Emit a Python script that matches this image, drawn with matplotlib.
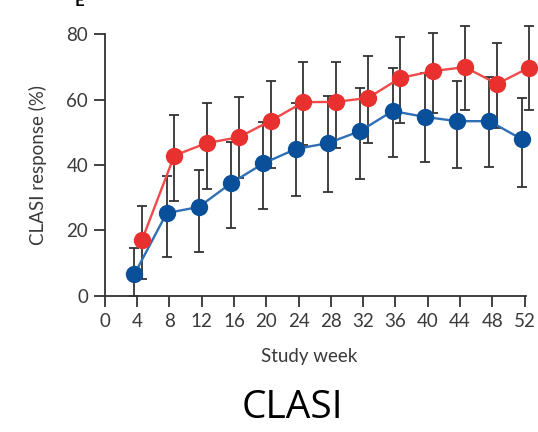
import matplotlib.pyplot as plt

# weeks and CLASI response (%)
weeks = [4, 8, 12, 16, 20, 24, 28, 32, 36, 40, 44, 48, 52]

red_mean = [17.1, 42.9, 46.7, 48.5, 53.6, 59.2, 59.3, 60.5, 66.6, 68.7, 69.9, 64.8, 69.8]
red_low = [5.2, 29.0, 32.8, 36.0, 39.1, 46.0, 45.2, 46.7, 52.8, 56.0, 56.8, 51.3, 56.8]
red_high = [27.6, 55.3, 58.9, 60.8, 65.8, 71.5, 71.5, 73.3, 79.1, 80.3, 82.4, 77.3, 82.4]

blue_mean = [6.6, 25.3, 27.2, 34.5, 40.5, 44.9, 46.7, 50.4, 56.5, 54.7, 53.4, 53.4, 47.9]
blue_low = [0.0, 11.9, 13.4, 20.8, 26.6, 30.5, 31.8, 35.7, 42.4, 40.9, 39.1, 39.4, 33.3]
blue_high = [14.7, 36.6, 38.5, 47.0, 53.0, 59.0, 61.0, 63.5, 69.6, 68.0, 65.6, 67.0, 60.5]

xticks = list(range(0, 53, 4))
yticks = [0, 20, 40, 60, 80]

plt.rcParams['font.family'] = ['Lato', 'DejaVu Sans']

fig = plt.figure(figsize=(5.38, 4.32), dpi=100)
ax = fig.add_axes([0.195, 0.315, 0.783, 0.606])

grey = '#333333'


def draw(mean, low, high, shift, line_col, mark_col, z):
    x = [w + shift for w in weeks]
    err = [[m - l for m, l in zip(mean, low)], [h - m for m, h in zip(mean, high)]]
    ax.errorbar(x, mean, yerr=err, fmt='none', ecolor=grey, elinewidth=1.3,
                capsize=3.5, capthick=1.3, zorder=1, clip_on=False)
    ax.plot(x, mean, '-', color=line_col, lw=1.7, zorder=z, clip_on=False)
    ax.plot(x, mean, 'o', color=mark_col, ms=12.5, mec='none', zorder=z + 0.5, clip_on=False)


draw(blue_mean, blue_low, blue_high, -0.35, '#2f6fb5', '#0a4f9a', 3)
draw(red_mean, red_low, red_high, 0.6, '#f04a4a', '#e8312f', 5)

ax.set_xlim(0, 52.2)
ax.set_ylim(0, 80)
ax.set_xticks(xticks)
ax.set_yticks(yticks)
for s in ['top', 'right']:
    ax.spines[s].set_visible(False)
for s in ['left', 'bottom']:
    ax.spines[s].set_color(grey)
    ax.spines[s].set_linewidth(1.3)
ax.tick_params(direction='out', length=8, width=1.3, color=grey,
               labelsize=13.5, labelcolor='#3a3a3a', pad=4)

ax.set_ylabel('CLASI response (%)', fontsize=13.5, color='#3a3a3a', labelpad=14)
ax.set_xlabel('Study week', fontsize=13.5, color='#3a3a3a', labelpad=14)
ax.xaxis.set_label_coords(0.485, -0.2)

fig.text(0.543, 0.055, 'CLASI', fontsize=28, ha='center', va='center', family=['Open Sans', 'DejaVu Sans'])
fig.text(0.148, 0.998, 'E', fontsize=12, fontweight='bold', ha='center', va='center')

fig.savefig('out.png', dpi=100)
